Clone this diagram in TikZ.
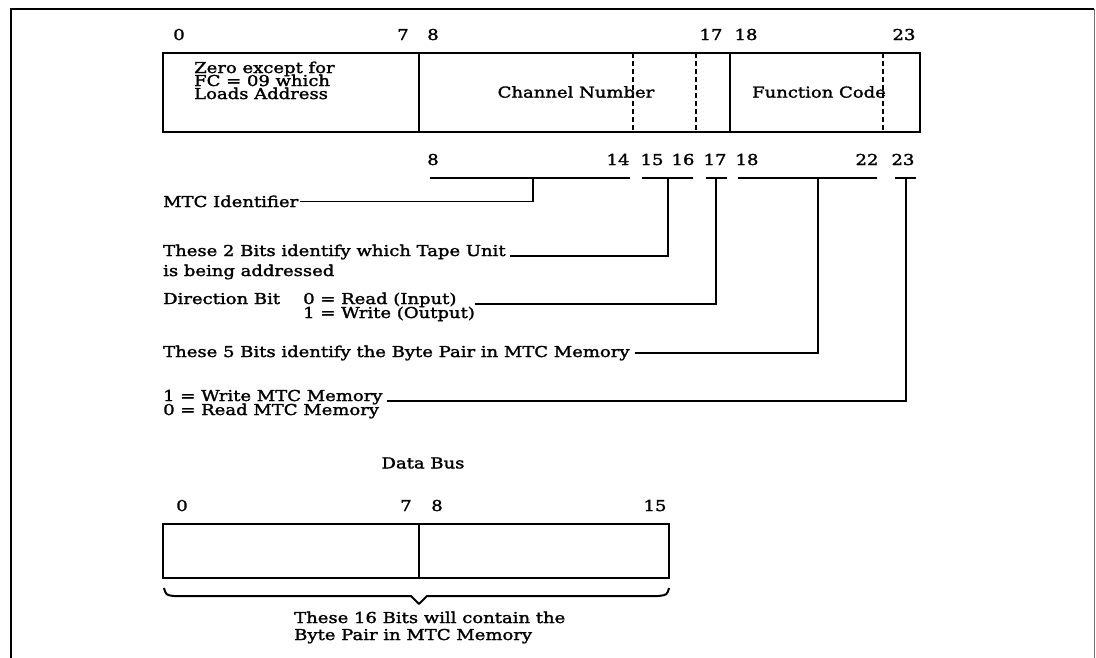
\documentclass[tikz,border=0pt]{standalone}
\usepackage{fontspec}
\setmainfont{DejaVu Serif}[FakeStretch=1.2, FakeBold=1.8]
\begin{document}
\begin{tikzpicture}[x=1pt,y=-1pt,
  every node/.style={inner sep=0pt, font=\fontsize{15}{15}\selectfont},
  lbl/.style={anchor=base},
  txt/.style={anchor=base west},
  reg/.style={line width=1.8pt},
  dsh/.style={line width=1.4pt, dash pattern=on 5pt off 3pt},
  conn/.style={line width=1.6pt},
  barl/.style={line width=1.6pt}]
\useasboundingbox (0,0) rectangle (1096,657);
% frame
\draw[line width=2.4pt] (11,660) -- (11,9) -- (1094,9);
\draw[line width=0.8pt, black!55] (1094,9) -- (1094,660);
% top register labels
\node[lbl] (t0) at (179,40) {0};
\node[lbl] (t7) at (403,40) {7};
\node[lbl] (t8) at (433,40) {8};
\node[lbl] (t17) at (711,40) {17};
\node[lbl] (t18) at (746,40) {18};
\node[lbl] (t23) at (904,40) {23};
% top register
\draw[reg] (163,53) rectangle (920,132);
\draw[reg] (419,53) -- (419,132);
\draw[reg] (730,53) -- (730,132);
\draw[dsh] (633,53) -- (633,132);
\draw[dsh] (696,53) -- (696,132);
\draw[dsh] (883,53) -- (883,132);
\node[txt] (z1) at (194,73) {Zero except for};
\node[txt] (z2) at (194,86) {FC = 09 which};
\node[txt] (z3) at (194,99) {Loads Address};
\node (chn) at (576,92) {Channel Number};
\node (fnc) at (819,92) {Function Code};
% second row labels
\node[lbl] (s8) at (433,165) {8};
\node[lbl] (s14) at (618,165) {14};
\node[lbl] (s15) at (652,165) {15};
\node[lbl] (s16) at (683,165) {16};
\node[lbl] (s17) at (715,165) {17};
\node[lbl] (s18) at (747,165) {18};
\node[lbl] (s22) at (867,165) {22};
\node[lbl] (s23) at (903,165) {23};
% bars
\draw[barl] (430,178) -- (630,178);
\draw[barl] (642,178) -- (693,178);
\draw[barl] (706,178) -- (727,178);
\draw[barl] (738,178) -- (877,178);
\draw[barl] (895,178) -- (916,178);
\coordinate (b1) at (533,178);
\coordinate (b2) at (668,178);
\coordinate (b3) at (716,178);
\coordinate (b4) at (818,178);
\coordinate (b5) at (906,178);
% descriptions
\node[txt] (mtc) at (163,207) {MTC Identifier};
\node[txt] (tapeA) at (163,256) {These 2 Bits identify which Tape Unit};
\node[txt] (tapeB) at (163,276) {is being addressed};
\node[txt] (dirA) at (163,304) {Direction Bit};
\node[txt] (dirB) at (303,304) {0 = Read (Input)};
\node[txt] (dirC) at (303,318) {1 = Write (Output)};
\node[txt] (byte) at (163,357) {These 5 Bits identify the Byte Pair in MTC Memory};
\node[txt] (wrA) at (163,401) {1 = Write MTC Memory};
\node[txt] (wrB) at (163,415) {0 = Read MTC Memory};
% connectors
\draw[conn] ([xshift=2pt]mtc.east) -| (b1);
\draw[conn] ([xshift=4pt]tapeA.base east) -| (b2);
\draw[conn] ([xshift=18pt]dirB.base east) -| (b3);
\draw[conn] ([xshift=5pt]byte.east) -| (b4);
\draw[conn] ([xshift=4pt]wrA.base east) -| (b5);
% data bus
\node (db) at (423,463) {Data Bus};
\node[lbl] (d0) at (182,511) {0};
\node[lbl] (d7) at (406,511) {7};
\node[lbl] (d8) at (437,511) {8};
\node[lbl] (d15) at (655,511) {15};
\draw[reg] (163,524) rectangle (669,578);
\draw[reg] (419,524) -- (419,578);
\draw[line width=2pt, line join=round] (164,588) .. controls (166,595) .. (174,596) -- (411,596) -- (419,604) -- (427,596) -- (658,596) .. controls (667,595) .. (669,588);
\node[txt] (bt1) at (294,623) {These 16 Bits will contain the};
\node[txt] (bt2) at (294,640) {Byte Pair in MTC Memory};
\end{tikzpicture}
\end{document}
